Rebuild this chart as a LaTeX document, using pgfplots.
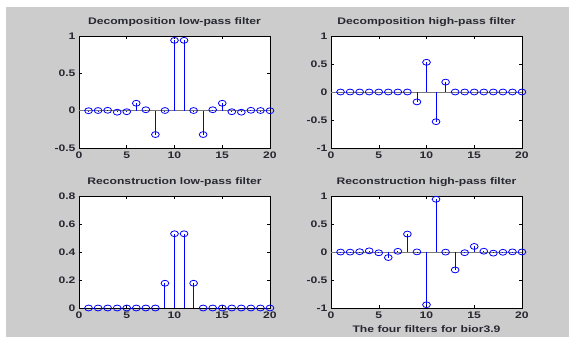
\documentclass[border=0pt]{standalone}
\usepackage{fontspec}
\setmainfont[FakeStretch=1.28]{Liberation Sans}
\usepackage{pgfplots}
\usepackage{pgfplotstable}
\pgfplotsset{compat=1.18}
\definecolor{figgray}{RGB}{204,204,204}
\definecolor{mblue}{RGB}{0,0,255}
\definecolor{basegray}{RGB}{120,120,120}
\definecolor{txt}{RGB}{40,40,50}

\pgfplotstableread{
n lod hid lor hir
1 -0.000680 0 0 -0.000680
2 0.002039 0 0 -0.002039
3 0.005060 0 0 0.005060
4 -0.020619 0 0 0.020619
5 -0.014113 0 0 -0.014113
6 0.099135 0 0 -0.099135
7 0.012300 0 0 0.012300
8 -0.320192 0 0 0.320192
9 0.002050 -0.176777 0.176777 0.002050
10 0.942126 0.530330 0.530330 -0.942126
11 0.942126 -0.530330 0.530330 0.942126
12 0.002050 0.176777 0.176777 -0.002050
13 -0.320192 0 0 -0.320192
14 0.012300 0 0 -0.012300
15 0.099135 0 0 0.099135
16 -0.014113 0 0 0.014113
17 -0.020619 0 0 -0.020619
18 0.005060 0 0 -0.005060
19 0.002039 0 0 0.002039
20 -0.000680 0 0 0.000680
}\filters

\pgfplotsset{
  mstyle/.style={
    scale only axis, width=191pt, height=112pt,
    xmin=0, xmax=20,
    xtick={0,5,10,15,20}, xticklabels={0,5,10,15,20},
    tick pos=both, tick align=inside, major tick length=3pt,
    axis background/.style={fill=white},
    axis line style={black, line width=0.6pt},
    every tick/.style={black, line width=0.5pt},
    tick label style={font=\fontsize{9.5}{10}\selectfont\bfseries, text=txt},
    title style={font=\fontsize{9.5}{10}\selectfont\bfseries, text=txt, yshift=0pt},
    xlabel style={font=\fontsize{9.5}{10}\selectfont\bfseries, text=txt},
  },
  stem/.style={ycomb, mblue, line width=0.9pt, mark=o, mark size=3.1pt,
    mark options={mblue, xscale=1.25, yscale=0.95, line width=0.8pt}},
}

\begin{document}
\begin{tikzpicture}
\fill[white] (0pt,0pt) rectangle (571pt,337pt);
\fill[figgray] (6pt,0pt) rectangle (569pt,330pt);

\begin{axis}[mstyle, at={(79pt,189pt)}, anchor=south west,
  ymin=-0.5, ymax=1, ytick={-0.5,0,0.5,1}, yticklabels={-0.5,0,0.5,1},
  title={Decomposition low-pass filter}]
  \addplot[basegray, line width=0.7pt] coordinates {(0,0) (20,0)};
  \addplot[stem] table[x=n, y=lod] {\filters};
\end{axis}

\begin{axis}[mstyle, at={(331pt,189pt)}, anchor=south west,
  ymin=-1, ymax=1, ytick={-1,-0.5,0,0.5,1}, yticklabels={-1,-0.5,0,0.5,1},
  title={Decomposition high-pass filter}]
  \addplot[basegray, line width=0.7pt] coordinates {(0,0) (20,0)};
  \addplot[stem] table[x=n, y=hid] {\filters};
\end{axis}

\begin{axis}[mstyle, at={(79pt,29pt)}, anchor=south west,
  ymin=0, ymax=0.8, ytick={0,0.2,0.4,0.6,0.8}, yticklabels={0,0.2,0.4,0.6,0.8},
  title={Reconstruction low-pass filter}]
  \addplot[basegray, line width=0.7pt] coordinates {(0,0) (20,0)};
  \addplot[stem] table[x=n, y=lor] {\filters};
\end{axis}

\begin{axis}[mstyle, at={(331pt,29pt)}, anchor=south west,
  ymin=-1, ymax=1, ytick={-1,-0.5,0,0.5,1}, yticklabels={-1,-0.5,0,0.5,1},
  title={Reconstruction high-pass filter},
  xlabel={The four filters for bior3.9}]
  \addplot[basegray, line width=0.7pt] coordinates {(0,0) (20,0)};
  \addplot[stem] table[x=n, y=hir] {\filters};
\end{axis}
\end{tikzpicture}
\end{document}
